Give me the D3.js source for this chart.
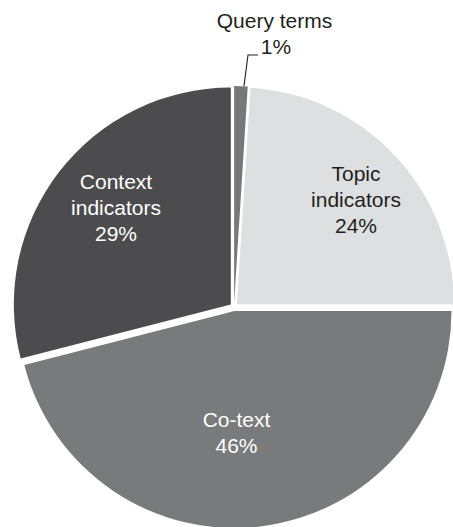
<!DOCTYPE html>
<html>
<head>
<meta charset="utf-8">
<script src="https://cdn.jsdelivr.net/npm/d3@7"></script>
<style>
  html, body { margin: 0; padding: 0; background: #ffffff; }
  svg { display: block; }
  text { font-family: "Liberation Sans", Arial, Helvetica, sans-serif; }
</style>
</head>
<body>
<svg id="chart" width="453" height="527"></svg>
<script>
// Share of cue types, clockwise from 12 o'clock
const categories = ["Query terms", "Topic indicators", "Co-text", "Context indicators"];
const shares = [1, 24, 46, 29];
const labelLines = [["Query terms"], ["Topic", "indicators"], ["Co-text"], ["Context", "indicators"]];

const fills = ["#77787a", "#dedfe0", "#797a7c", "#4c4c4e"];
const textFills = ["#231f20", "#231f20", "#ffffff", "#ffffff"];

const width = 453, height = 527;
const cx = 234, cy = 307;
const radius = 217;
const explode = 4;
const fontSize = 21;
const lineHeight = 26;

// Label anchors (centre of the first line's baseline), relative to the pie centre
const labelAnchor = {
  "Topic indicators": [122, -126],
  "Co-text": [2.5, 119.7],
  "Context indicators": [-118, -118]
};

const svg = d3.select("#chart");
const g = svg.append("g").attr("transform", `translate(${cx},${cy})`);

const pie = d3.pie().sort(null).value(d => d.value);
const arcs = pie(categories.map((c, i) => ({ name: c, value: shares[i], i })));

const arc = d3.arc().innerRadius(0).outerRadius(radius);

function offset(d) {
  const mid = (d.startAngle + d.endAngle) / 2;
  return [explode * Math.sin(mid), -explode * Math.cos(mid)];
}

g.selectAll("path.slice")
  .data(arcs)
  .join("path")
  .attr("class", "slice")
  .attr("d", arc)
  .attr("fill", d => fills[d.data.i])
  .attr("transform", d => {
    const [dx, dy] = offset(d);
    return `translate(${dx},${dy})`;
  });

// In-slice labels
arcs.filter(d => labelAnchor[d.data.name]).forEach(d => {
  const [ax, ay] = labelAnchor[d.data.name];
  const lines = labelLines[d.data.i].concat([`${d.data.value}%`]);
  const t = g.append("text")
    .attr("text-anchor", "middle")
    .attr("font-size", fontSize)
    .attr("fill", textFills[d.data.i]);
  lines.forEach((ln, k) => {
    t.append("tspan").attr("x", ax).attr("y", ay + k * lineHeight).text(ln);
  });
});

// Outside label with leader line for the small slice
const small = arcs[0];
const [sdx, sdy] = offset(small);
const smid = (small.startAngle + small.endAngle) / 2;
const edge = [sdx + (radius + 1) * Math.sin(smid) + 3, sdy - (radius + 1) * Math.cos(smid) + 1];
const elbow = [14, -252];
const tail = [24, -252];

g.append("polyline")
  .attr("points", [edge, elbow, tail].map(p => p.join(",")).join(" "))
  .attr("fill", "none")
  .attr("stroke", "#231f20")
  .attr("stroke-width", 1.1);

const qt = g.append("text")
  .attr("text-anchor", "middle")
  .attr("font-size", fontSize)
  .attr("fill", textFills[0]);
qt.append("tspan").attr("x", 40.5).attr("y", -279).text(labelLines[0][0]);
qt.append("tspan").attr("x", 42).attr("y", -253).text(`${small.data.value}%`);
</script>
</body>
</html>
